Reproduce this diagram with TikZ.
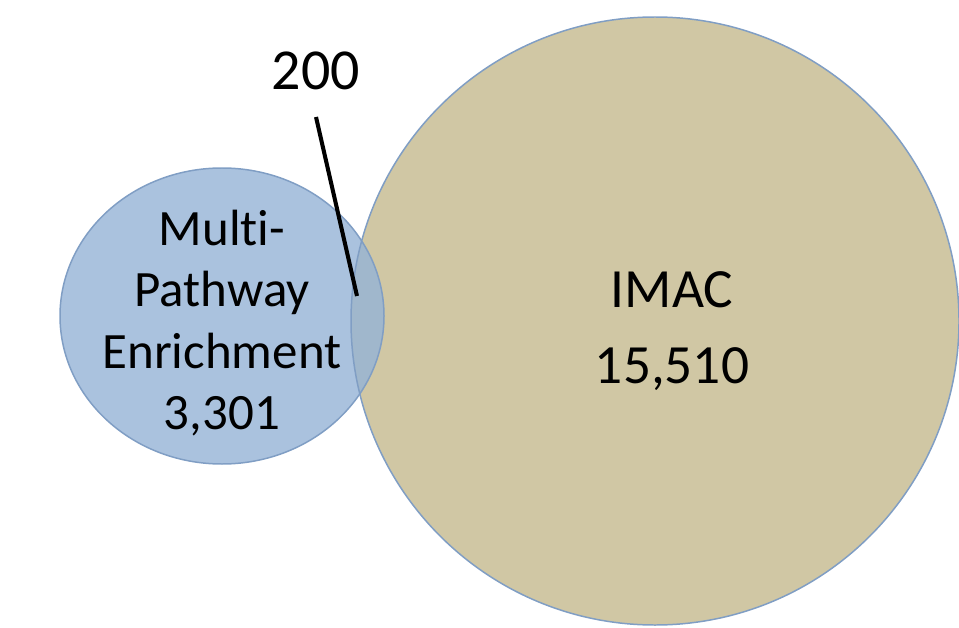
\documentclass[tikz,border=0pt]{standalone}
\usepackage{fontspec}
\setmainfont{Carlito}[Ligatures={NoCommon}]
\usetikzlibrary{positioning}

\definecolor{tanfill}{RGB}{208,199,164}
\definecolor{bluefill}{RGB}{149,179,214}
\definecolor{setedge}{RGB}{128,158,196}

\tikzset{
  setline/.style={draw=setedge,line width=0.85pt},
  settext/.style={align=center,inner sep=0pt,text=black}
}

\begin{document}
\begin{tikzpicture}[x=0.02cm,y=-0.02cm]
\useasboundingbox (0,0) rectangle (959,628);

% the two sets
\fill[tanfill] (655,321) circle [radius=304];
\fill[bluefill,fill opacity=0.8] (222,316) ellipse [x radius=162, y radius=148];
\draw[setline] (655,321) circle [radius=304];
\draw[setline] (222,316) ellipse [x radius=162, y radius=148];

\node (mpe) at (222,323) [settext,font=\fontsize{29}{35}\selectfont] {Multi-\\Pathway\\Enrichment\\3,301};
\node (imac) at (672,331) [settext,font=\fontsize{31.5}{43}\selectfont] {IMAC\\15,510};
\node (n200) at (316,71) [settext,font=\fontsize{33}{40}\selectfont] {200};

\coordinate (c0) at (316,117);
\coordinate (c1) at (357,296);
\draw[line width=2.3pt] (c0) -- (c1);
\end{tikzpicture}
\end{document}
